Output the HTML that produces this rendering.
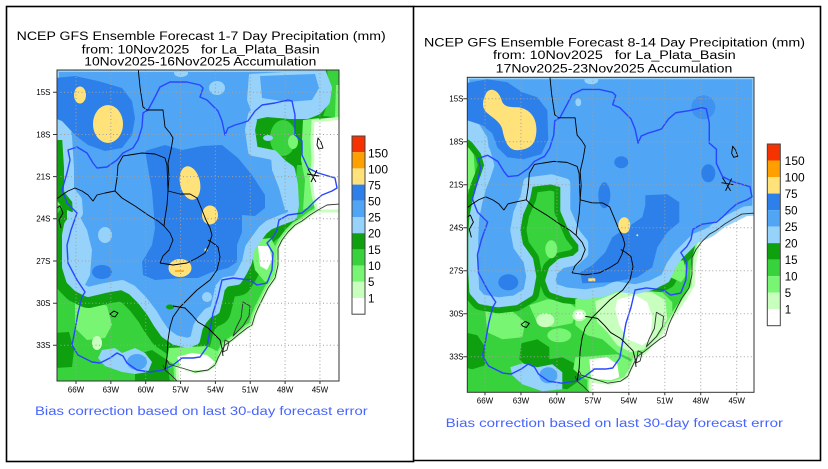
<!DOCTYPE html>
<html><head><meta charset="utf-8"><style>
html,body{margin:0;padding:0;background:#fff;}
svg{display:block;}
text{font-family:"Liberation Sans",sans-serif;white-space:pre;}
</style></head><body>
<svg width="828" height="469" viewBox="0 0 828 469" xmlns="http://www.w3.org/2000/svg">
<defs>
<clipPath id="cL"><rect x="0" y="0" width="282" height="311"/></clipPath>
<clipPath id="cR"><rect x="0" y="0" width="286.7" height="315"/></clipPath>
<polygon id="bL" points="-3,-3 262,-3 266,8 270,18 268,31 260,40 250,44 233,44 210,42 196,45 193,60 196,81 216,85 226,95 233,100 236,115 237,135 235,146 224,150 212,155 206,160 200,168 193,178 190,192 185,202 180,210 168,212 163,218 161,228 158,240 151,243 145,250 141,257 138,270 131,273 118,270 108,263 101,253 95,243 85,230 75,220 65,215 48,218 31,222 21,217 14,210 10,197 10,165 12,155 21,143 20,130 12,120 12,98 10,66 5,58 -3,56"/>
<polygon id="bR" points="-3,-3 290,-3 290,133 278,134 264,141 254,146 244,154 238,157 228,161 218,171 211,178 204,188 198,201 184,208 168,212 148,209 138,214 118,217 98,215 86,211 83,203 86,193 94,186 108,183 116,176 116,166 108,156 98,133 98,106 84,102 61,105 58,120 51,136 48,153 51,169 61,183 64,199 61,215 48,223 31,225 14,222 7,214 6,195 6,160 7,140 10,125 14,110 18,100 22,88 18,74 8,61 -3,53"/>
<polygon id="wL" points="290,134 282,133 270,135 261,140 253,145 245,151 238,155 231,162 225,170 221,178 221,195 218,208 211,218 206,228 201,238 198,245 195,255 190,258 181,265 175,270 168,275 165,280 161,288 158,295 151,300 138,302 125,298 120,295 121,320 290,320"/>
<polygon id="wR" points="290,133 275,135 262,142 250,148 241,155 234,160 231,168 228,181 226,195 226,208 218,221 211,231 204,241 198,251 191,261 184,268 178,275 168,281 164,291 158,301 144,306 131,305 123,303 123,320 290,320"/>
<g id="lines" fill="none" stroke-linejoin="round">
<path stroke="#2846ff" stroke-width="1.4" d="M11,80 L20,77 30,83 36,93 40,98 50,97 60,90 66,83 76,78 81,70 85,57 86,43 91,40 98,27 103,17 113,12 120,12 130,12 143,15 146,18 143,27 150,30 155,35 161,41 165,51 168,65 171,58 178,55 185,53 191,51 198,41 205,35 218,33 231,30 235,31 238,45 238,65 245,71 245,85 251,98 261,103 268,105 278,108 280,118 275,121 265,125 258,131 251,138 245,143 231,145 222,150 220,160 216,167 210,173 216,183 215,200 210,213 200,215 193,210 176,208 165,210 161,227 156,243 153,260 150,277 143,287 136,288 125,288 116,295 106,300 93,302 80,300 70,293 66,286 60,283 53,288 43,293 35,292 21,285 15,275 18,260 21,243 25,227 28,222 20,210 11,193 10,175 14,160 20,143 10,133 5,120 10,103 13,90 Z"/>
<g stroke="#000" stroke-width="0.9">
<path d="M81,-3 L83,17 86,37 90,40 106,40 108,57 113,63 116,68 114,80 111,93 112,107 111,121 123,124 133,124 140,128 145,140 149,150 153,158 155,165 152,175 148,183 140,188 130,193 116,195 103,193"/>
<path d="M66,86 L85,83 98,84 108,88 110,95 111,121 110,135 108,148 107,156 113,163 116,170 112,180 106,186 103,193"/>
<path d="M66,86 L61,95 60,108 58,121 48,123 40,125 36,131 31,125 25,121 18,118 11,121 5,125 -3,131"/>
<path d="M58,121 L65,128 78,136 91,145 101,151 107,156"/>
<path d="M151,170 L156,173 161,177 163,187 160,200 153,210 140,220 130,230 123,237 116,247 113,257 111,270 110,287 108,300"/>
<path d="M116,236 L128,238 135,245 141,252 151,258 158,265 163,270 165,278 166,286"/>
<path d="M-3,140 L3,136 6,143 2,150 4,158"/>
<path d="M261,68 L264,72 266,78 262,79 260,75 Z"/>
<path d="M53,244 L57,241 61,243 58,247 55,246 Z"/>
<path d="M251,99 L259,112 M254,112 L260,100 M250,104 L262,106"/>
</g>
<g stroke="#333" stroke-width="0.9">
<path d="M283,134 L270,135 261,140 253,145 245,151 238,155 231,162 225,170 221,178 221,195 218,208 211,218 206,228 201,238 198,245 195,255 190,258 181,265 175,270 168,275 165,280 161,288 158,295 151,300 138,302 125,298 118,296 112,294 110,290"/>
<path d="M106,295 L108,300 114,305 121,312"/>
<path d="M186,232 L193,236 192,246 186,256 180,262 176,266 179,258 184,248 185,240 Z"/>
<path d="M168,270 L172,272 170,280 166,282 Z"/>
</g>
</g>
</defs>

<!-- panel borders -->
<rect x="6.5" y="6.5" width="407" height="455" fill="none" stroke="#000" stroke-width="1.6"/>
<path d="M413.5,6.5 L820.5,6.5 L820.5,460.5 L413.5,460.5" fill="none" stroke="#000" stroke-width="1.6"/>

<!-- LEFT TITLE -->
<text x="16.7" y="40" font-size="11.5" textLength="369" lengthAdjust="spacingAndGlyphs">NCEP GFS Ensemble Forecast 1-7 Day Precipitation (mm)</text>
<text x="81.7" y="53.3" font-size="11.5" textLength="238" lengthAdjust="spacingAndGlyphs">from: 10Nov2025   for La_Plata_Basin</text>
<text x="84.3" y="65.7" font-size="11.5" textLength="232" lengthAdjust="spacingAndGlyphs">10Nov2025-16Nov2025 Accumulation</text>

<!-- LEFT MAP -->
<g transform="translate(57,70)">
<g clip-path="url(#cL)">
<rect x="0" y="0" width="282" height="311" fill="#37d23c"/>
<polygon fill="#78f573" points="18,232 35,228 50,236 55,255 48,268 30,270 18,258"/>
<ellipse cx="40" cy="273" rx="5" ry="7" fill="#c8ffbe"/>
<polygon fill="#0fa00f" points="-3,263 12,262 17,280 15,297 -3,298"/>
<polygon fill="#0fa00f" points="78,285 95,280 110,290 113,312 78,312"/>
<polygon fill="#78f573" points="-3,75 5,78 6,120 3,135 -3,135"/>
<polygon fill="#0fa00f" points="190,40 262,38 272,0 285,0 285,50 258,52 256,95 240,102 226,98 212,88 192,85"/>
<use href="#bL" fill="none" stroke="#0fa00f" stroke-width="32" stroke-linejoin="round"/>
<ellipse cx="226" cy="68" rx="13" ry="18" fill="#37d23c"/>
<ellipse cx="236" cy="72" rx="5" ry="7" fill="#78f573"/>
<ellipse cx="211" cy="68" rx="5" ry="3" fill="#96d2fa"/>
<polygon fill="#37d23c" points="270,-3 285,-3 285,48 266,46 272,30"/>
<polygon fill="#78f573" points="279,15 285,15 285,50 278,48"/>
<polygon fill="#37d23c" points="240,95 256,95 255,140 245,148 236,150"/>
<polygon fill="#78f573" points="246,50 262,48 262,115 256,135 246,140 248,110 244,90"/>
<use href="#wL" fill="#fff" stroke="#78f573" stroke-width="7" stroke-linejoin="round"/>
<use href="#wL" fill="#fff" stroke="#c8ffbe" stroke-width="3" stroke-linejoin="round"/>
<polygon fill="#fff" stroke="#c8ffbe" stroke-width="3" stroke-linejoin="round" points="256,51 285,48 285,141 260,141 256,125 254,108 256,90 255,70"/>
<polygon fill="#78f573" points="196,170 214,168 220,180 218,205 208,212 198,200 195,185"/>
<polygon fill="#fff" points="201,176 212,176 215,190 210,200 203,196"/>
<polygon fill="#78f573" points="112,278 150,276 162,282 160,292 120,296 110,290"/>
<polygon fill="#fff" points="120,287 135,283 150,285 158,292 150,300 125,300"/>
<use href="#bL" fill="#50a5f5" stroke="#96d2fa" stroke-width="10" stroke-linejoin="round"/>
<polygon fill="#96d2fa" points="192,4 262,0 266,20 262,38 250,46 196,46 190,30"/>
<polygon fill="#50a5f5" points="203,6 258,4 262,18 255,30 230,32 205,28"/>
<polygon fill="#96d2fa" points="214,86 228,94 236,105 236,140 228,140 222,118 215,100"/>
<ellipse cx="160" cy="18" rx="8" ry="7" fill="#96d2fa"/>
<ellipse cx="124" cy="3" rx="7" ry="4" fill="#96d2fa"/>
<polygon fill="#96d2fa" points="-3,46 8,50 15,60 12,70 -3,70"/>
<polygon fill="#96d2fa" points="10,140 22,145 30,160 35,180 33,205 28,215 15,212 10,195"/>
<polygon fill="#2d80ea" points="-3,8 18,6 41,11 65,18 75,31 78,48 75,65 65,78 48,81 31,75 18,65 5,51 -3,48"/>
<ellipse cx="23" cy="25" rx="6" ry="8.5" fill="#ffe27a"/>
<ellipse cx="51" cy="54" rx="15" ry="19" fill="#ffe27a"/>
<polygon fill="#2d80ea" points="88,81 108,75 125,80 145,76 165,75 181,88 195,105 208,125 208,138 198,146 185,145 185,162 180,175 180,192 171,198 155,202 141,208 125,208 98,210 86,205 85,192 95,175 98,158 95,121 91,98"/>
<ellipse cx="45" cy="202" rx="10" ry="7" fill="#2d80ea"/>
<ellipse cx="150" cy="227" rx="5" ry="5" fill="#96d2fa"/>
<ellipse cx="48" cy="165" rx="7" ry="8" fill="#96d2fa"/>
<polygon fill="#96d2fa" points="41,288 45,280 58,278 65,283 78,278 88,283 95,292 91,302 78,304 65,302 48,296"/>
<ellipse cx="80" cy="292" rx="10" ry="8" fill="#50a5f5"/>
<ellipse cx="133" cy="113" rx="10" ry="17" fill="#ffe27a" transform="rotate(-12 133 113)"/>
<ellipse cx="153" cy="145" rx="8" ry="9.5" fill="#ffe27a"/>
<ellipse cx="123" cy="198" rx="11.5" ry="9" fill="#ffe27a"/>
<line x1="118" y1="201" x2="127" y2="201" stroke="#ffa000" stroke-width="1.5"/>
<circle cx="149" cy="180" r="1.6" fill="#ffe27a"/>
<ellipse cx="113" cy="237" rx="4" ry="2.5" fill="#0fa00f"/>
<use href="#lines"/>
</g>
<g stroke="#a0a0a0" stroke-width="1" stroke-dasharray="1 2.5" fill="none">
<path d="M19,0V311 M53.85,0V311 M88.7,0V311 M123.55,0V311 M158.4,0V311 M193.25,0V311 M228.1,0V311 M262.95,0V311"/>
<path d="M0,22.3H282 M0,64.5H282 M0,106.6H282 M0,148.8H282 M0,191H282 M0,233.2H282 M0,275.3H282"/>
</g>
<rect x="0" y="0" width="282" height="311" fill="none" stroke="#333" stroke-width="1"/>
<g stroke="#333" stroke-width="1">
<path d="M-4,22.3H0 M-4,64.5H0 M-4,106.6H0 M-4,148.8H0 M-4,191H0 M-4,233.2H0 M-4,275.3H0"/>
<path d="M19,311v3 M53.85,311v3 M88.7,311v3 M123.55,311v3 M158.4,311v3 M193.25,311v3 M228.1,311v3 M262.95,311v3"/>
</g>
</g>
<g font-size="8" text-anchor="end">
<text x="50.5" y="95.2">15S</text><text x="50.5" y="137.4">18S</text><text x="50.5" y="179.5">21S</text><text x="50.5" y="221.7">24S</text><text x="50.5" y="263.9">27S</text><text x="50.5" y="306.1">30S</text><text x="50.5" y="348.2">33S</text>
</g>
<g font-size="8" text-anchor="middle">
<text x="76" y="392.3">66W</text><text x="110.85" y="392.3">63W</text><text x="145.7" y="392.3">60W</text><text x="180.55" y="392.3">57W</text><text x="215.4" y="392.3">54W</text><text x="250.25" y="392.3">51W</text><text x="285.1" y="392.3">48W</text><text x="319.95" y="392.3">45W</text>
</g>
<!-- left colorbar -->
<g>
<rect x="352" y="136" width="13" height="16.2" fill="#f53200"/>
<rect x="352" y="152.2" width="13" height="16.2" fill="#ffa000"/>
<rect x="352" y="168.4" width="13" height="16.2" fill="#ffe27a"/>
<rect x="352" y="184.6" width="13" height="16.2" fill="#2d80ea"/>
<rect x="352" y="200.8" width="13" height="16.2" fill="#50a5f5"/>
<rect x="352" y="217" width="13" height="16.2" fill="#96d2fa"/>
<rect x="352" y="233.2" width="13" height="16.2" fill="#0fa00f"/>
<rect x="352" y="249.4" width="13" height="16.2" fill="#37d23c"/>
<rect x="352" y="265.6" width="13" height="16.2" fill="#78f573"/>
<rect x="352" y="281.8" width="13" height="16.2" fill="#c8ffbe"/>
<rect x="352" y="298" width="13" height="16.2" fill="#fff"/>
<rect x="352" y="136" width="13" height="178.2" fill="none" stroke="#444" stroke-width="1"/>
</g>
<g font-size="11.5">
<text x="368" y="157.3" textLength="20" lengthAdjust="spacingAndGlyphs">150</text>
<text x="368" y="173.3" textLength="20" lengthAdjust="spacingAndGlyphs">100</text>
<text x="368" y="189.3">75</text><text x="368" y="205.7">50</text><text x="368" y="221.7">25</text><text x="368" y="237.3">20</text><text x="368" y="254">15</text><text x="368" y="270">10</text><text x="368" y="286">5</text><text x="368" y="302.3">1</text>
</g>
<text x="35" y="415" font-size="11.5" fill="#4664ff" textLength="332.7" lengthAdjust="spacingAndGlyphs">Bias correction based on last 30-day forecast error</text>

<!-- RIGHT TITLE -->
<text x="424" y="46.5" font-size="11.5" textLength="381" lengthAdjust="spacingAndGlyphs">NCEP GFS Ensemble Forecast 8-14 Day Precipitation (mm)</text>
<text x="493" y="59" font-size="11.5" textLength="242.7" lengthAdjust="spacingAndGlyphs">from: 10Nov2025   for La_Plata_Basin</text>
<text x="495.7" y="72.5" font-size="11.5" textLength="236.6" lengthAdjust="spacingAndGlyphs">17Nov2025-23Nov2025 Accumulation</text>

<!-- RIGHT MAP -->
<g transform="translate(467.3,77.3)">
<g clip-path="url(#cR)">
<rect x="0" y="0" width="287" height="315" fill="#37d23c"/>
<polygon fill="#78f573" points="-3,70 6,72 8,100 4,112 -3,112"/>
<polygon fill="#0fa00f" points="-3,255 10,258 18,270 18,288 5,292 -3,290"/>
<polygon fill="#0fa00f" points="54,266 70,262 82,270 82,290 62,292 52,282"/>
<polygon fill="#0fa00f" points="76,283 95,280 111,288 114,302 100,312 80,310"/>
<polygon fill="#78f573" points="18,234 45,234 58,245 55,260 35,262 20,255"/>
<polygon fill="#78f573" points="62,228 80,222 100,224 110,232 105,246 85,250 70,246"/>
<ellipse cx="92" cy="258" rx="12" ry="7" fill="#78f573"/>
<use href="#bR" fill="none" stroke="#0fa00f" stroke-width="22" stroke-linejoin="round"/>
<ellipse cx="78" cy="243" rx="9" ry="7" fill="#c8ffbe"/>
<ellipse cx="84" cy="172" rx="6" ry="9" fill="#78f573"/>
<polygon fill="#78f573" points="108,222 130,215 160,212 195,215 205,225 205,250 195,268 180,278 165,282 150,275 135,262 120,258 108,248"/>
<polygon fill="#c8ffbe" points="128,224 150,215 185,215 198,223 200,242 193,262 178,272 163,275 150,268 140,255 130,245"/>
<polygon fill="#fff" points="150,222 168,218 180,225 185,240 183,262 175,268 160,262 152,248 148,232"/>
<ellipse cx="112" cy="238" rx="7" ry="6" fill="#c8ffbe"/>
<ellipse cx="112" cy="238" rx="4.5" ry="4" fill="#fff"/>
<polygon fill="#78f573" points="200,185 216,183 220,196 214,205 203,200"/>
<polygon fill="#78f573" points="108,280 150,277 165,285 162,296 145,304 118,302 106,292"/>
<polygon fill="#fff" points="122,282 140,280 150,287 152,300 140,306 124,303"/>
<use href="#wR" fill="#fff" stroke="#78f573" stroke-width="6" stroke-linejoin="round"/>
<use href="#wR" fill="#fff" stroke="#c8ffbe" stroke-width="3" stroke-linejoin="round"/>
<use href="#bR" fill="#50a5f5" stroke="#96d2fa" stroke-width="10" stroke-linejoin="round"/>
<polygon fill="#96d2fa" points="-3,40 10,44 20,60 22,75 -3,60"/>
<polygon fill="#2d80ea" points="-3,6 20,2 40,5 55,15 70,20 80,33 81,62 74,77 56,82 40,80 30,70 25,56 15,48 -3,42"/>
<path fill="#ffe27a" d="M18,18 C20,10 30,10 34,22 C36,30 42,30 51,30 C64,32 70,42 69,55 C68,68 62,72 50,73 C40,73 37,62 35,52 C33,44 24,40 18,34 C14,28 16,22 18,18 Z"/>
<ellipse cx="124" cy="3" rx="7" ry="4" fill="#96d2fa"/>
<ellipse cx="111" cy="25" rx="3" ry="4" fill="#96d2fa"/>
<ellipse cx="154" cy="85" rx="7" ry="6" fill="#2d80ea"/>
<ellipse cx="137" cy="118" rx="6" ry="13" fill="#2d80ea"/>
<polygon fill="#2d80ea" points="178,118 200,117 212,125 212,145 200,155 190,170 185,190 170,200 145,205 115,206 113,195 125,188 138,175 145,160 160,150 175,140 178,128"/>
<ellipse cx="241" cy="96" rx="7" ry="9" fill="#2d80ea"/>
<ellipse cx="236" cy="30" rx="12" ry="12" fill="#3f92ef"/>
<ellipse cx="41" cy="205" rx="10" ry="8" fill="#2d80ea"/>
<polygon fill="#96d2fa" points="43,290 55,286 70,290 85,287 95,295 95,312 75,314 55,307 45,298"/>
<ellipse cx="81" cy="298" rx="9" ry="8" fill="#50a5f5"/>
<ellipse cx="157" cy="148" rx="6" ry="8" fill="#ffe27a"/>
<rect x="121" y="201" width="7" height="3" fill="#ffe27a"/>
<circle cx="170" cy="158" r="1" fill="#ffe27a"/>
<use href="#lines" transform="scale(1.0167,1.0129)"/>
</g>
<g stroke="#a0a0a0" stroke-width="1" stroke-dasharray="1 2.5" fill="none">
<path d="M17.7,0V315 M53.66,0V315 M89.62,0V315 M125.58,0V315 M161.54,0V315 M197.5,0V315 M233.46,0V315 M269.42,0V315"/>
<path d="M0,21.4H286.7 M0,64.4H286.7 M0,107.4H286.7 M0,150.4H286.7 M0,193.4H286.7 M0,236.4H286.7 M0,279.4H286.7"/>
</g>
<rect x="0" y="0" width="286.7" height="315" fill="none" stroke="#333" stroke-width="1"/>
<g stroke="#333" stroke-width="1">
<path d="M-4,21.4H0 M-4,64.4H0 M-4,107.4H0 M-4,150.4H0 M-4,193.4H0 M-4,236.4H0 M-4,279.4H0"/>
<path d="M17.7,315v3 M53.66,315v3 M89.62,315v3 M125.58,315v3 M161.54,315v3 M197.5,315v3 M233.46,315v3 M269.42,315v3"/>
</g>
</g>
<g font-size="8" text-anchor="end">
<text x="463.5" y="101.5">15S</text><text x="463.5" y="144.5">18S</text><text x="463.5" y="187.5">21S</text><text x="463.5" y="230.5">24S</text><text x="463.5" y="273.5">27S</text><text x="463.5" y="316.5">30S</text><text x="463.5" y="359.5">33S</text>
</g>
<g font-size="8" text-anchor="middle">
<text x="485" y="403.5">66W</text><text x="521" y="403.5">63W</text><text x="556.9" y="403.5">60W</text><text x="592.9" y="403.5">57W</text><text x="628.8" y="403.5">54W</text><text x="664.8" y="403.5">51W</text><text x="700.8" y="403.5">48W</text><text x="736.7" y="403.5">45W</text>
</g>
<!-- right colorbar -->
<g>
<rect x="767.3" y="144" width="13" height="16.52" fill="#f53200"/>
<rect x="767.3" y="160.52" width="13" height="16.52" fill="#ffa000"/>
<rect x="767.3" y="177.04" width="13" height="16.52" fill="#ffe27a"/>
<rect x="767.3" y="193.56" width="13" height="16.52" fill="#2d80ea"/>
<rect x="767.3" y="210.08" width="13" height="16.52" fill="#50a5f5"/>
<rect x="767.3" y="226.6" width="13" height="16.52" fill="#96d2fa"/>
<rect x="767.3" y="243.12" width="13" height="16.52" fill="#0fa00f"/>
<rect x="767.3" y="259.64" width="13" height="16.52" fill="#37d23c"/>
<rect x="767.3" y="276.16" width="13" height="16.52" fill="#78f573"/>
<rect x="767.3" y="292.68" width="13" height="16.52" fill="#c8ffbe"/>
<rect x="767.3" y="309.2" width="13" height="16.52" fill="#fff"/>
<rect x="767.3" y="144" width="13" height="181.7" fill="none" stroke="#444" stroke-width="1"/>
</g>
<g font-size="11.5">
<text x="784.7" y="165" textLength="20" lengthAdjust="spacingAndGlyphs">150</text>
<text x="784.7" y="181.5" textLength="20" lengthAdjust="spacingAndGlyphs">100</text>
<text x="784.7" y="198">75</text><text x="784.7" y="214.5">50</text><text x="784.7" y="231">25</text><text x="784.7" y="247.5">20</text><text x="784.7" y="264">15</text><text x="784.7" y="280.5">10</text><text x="784.7" y="297">5</text><text x="784.7" y="313.5">1</text>
</g>
<text x="445.7" y="427" font-size="11.5" fill="#4664ff" textLength="337.3" lengthAdjust="spacingAndGlyphs">Bias correction based on last 30-day forecast error</text>
</svg>
</body></html>
